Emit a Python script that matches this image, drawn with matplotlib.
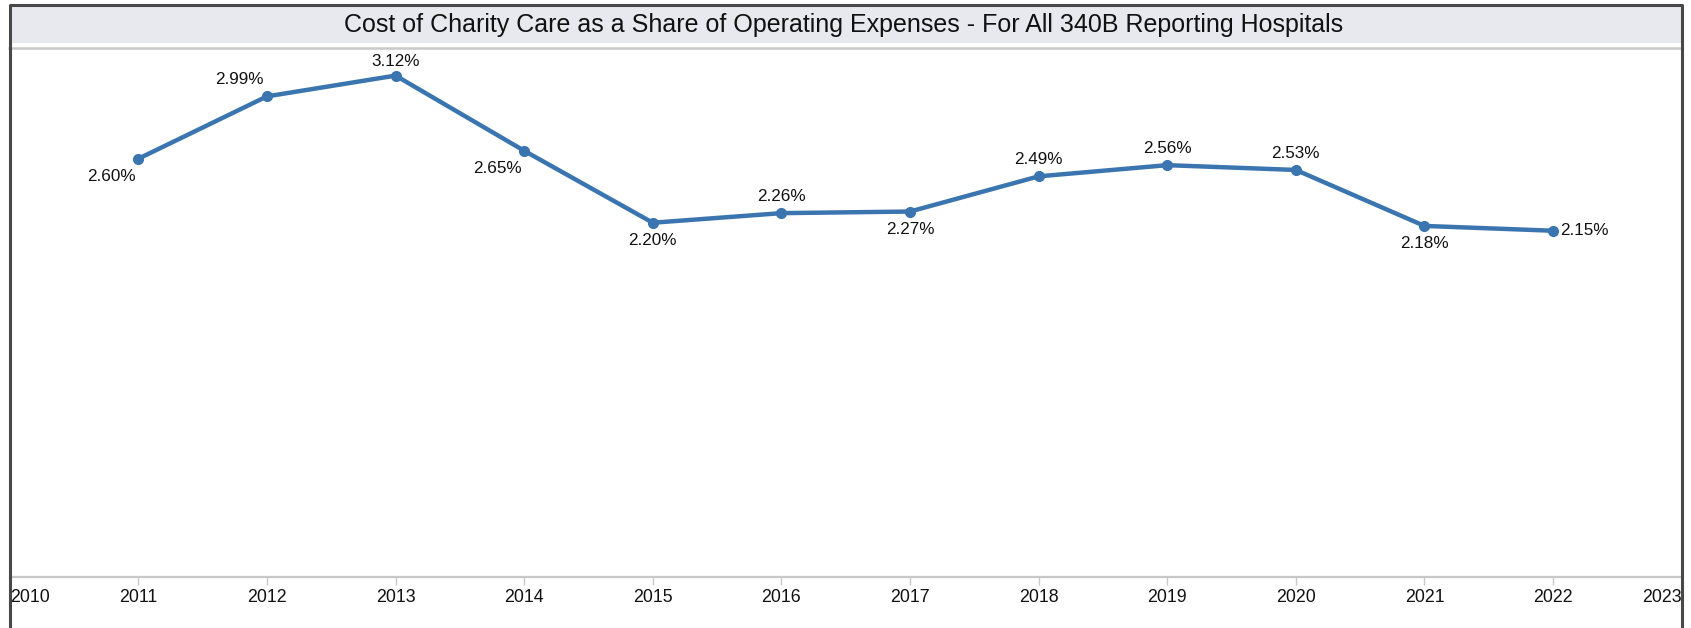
import matplotlib.pyplot as plt
from matplotlib.patches import Rectangle

years = [2011, 2012, 2013, 2014, 2015, 2016, 2017, 2018, 2019, 2020, 2021, 2022]
share = [2.60, 2.99, 3.12, 2.65, 2.20, 2.26, 2.27, 2.49, 2.56, 2.53, 2.18, 2.15]
# where each value label sits relative to its point
label_pos = ['below_left', 'above_left', 'top', 'below_left', 'below', 'above',
             'below', 'above', 'above', 'above', 'below', 'right']
tick_years = list(range(2010, 2024))

title = 'Cost of Charity Care as a Share of Operating Expenses - For All 340B Reporting Hospitals'
line_color = '#3a75b0'

plt.rcParams['font.family'] = ['Liberation Sans', 'DejaVu Sans']

W, H = 1691, 628
fig = plt.figure(figsize=(W / 100, H / 100), dpi=100)

# title bar and outer frame
fig.patches.append(Rectangle((9 / W, 1 - 43 / H), 1673 / W, 38 / H, transform=fig.transFigure,
                             facecolor='#e8e9ee', edgecolor='none', zorder=0))
fig.lines.append(plt.Line2D([9 / W, 1682 / W], [1 - 48 / H, 1 - 48 / H], transform=fig.transFigure,
                            color='#c9c9c9', lw=1.8))
fig.lines.append(plt.Line2D([9.5 / W, 9.5 / W, 1682 / W, 1682 / W], [0, 1 - 5 / H, 1 - 5 / H, 0],
                            transform=fig.transFigure, color='#484848', lw=2.2))
fig.text(844 / W, 1 - 25 / H, title, ha='center', va='center', fontsize=18, color='#111111')

ax = fig.add_axes([9.7 / W, 1 - 577 / H, 1672 / W, 527 / H])
ax.set_facecolor('none')
ax.plot(years, share, color=line_color, lw=3.2, marker='o', ms=7, solid_joinstyle='round')

offsets = {
    'below_left': (-19.5, -13, 'center', 'center'),
    'above_left': (-20, 12, 'center', 'center'),
    'top': (0, 10, 'center', 'center'),
    'above': (0, 12, 'center', 'center'),
    'below': (0, -13, 'center', 'center'),
    'right': (5, 0, 'left', 'center'),
}
for x, y, p in zip(years, share, label_pos):
    dx, dy, ha, va = offsets[p]
    ax.annotate('%.2f%%' % y, (x, y), xytext=(dx, dy), textcoords='offset points',
                ha=ha, va=va, fontsize=12.3, color='#111111')

ax.set_xlim(2010, 2023)
ax.set_ylim(-0.015, 3.28)
ax.set_xticks(tick_years)
ax.set_xticklabels([str(t) for t in tick_years], fontsize=12.8, color='#111111')
ax.set_yticks([])
for s in ['left', 'right', 'top']:
    ax.spines[s].set_visible(False)
ax.spines['bottom'].set_color('#c8c8c8')
ax.spines['bottom'].set_linewidth(1.6)
ax.tick_params(axis='x', length=6, width=1, color='#c8c8c8', pad=3)
labels = ax.get_xticklabels()
labels[0].set_ha('left')
labels[-1].set_ha('right')

fig.savefig('out.png', dpi=100)
